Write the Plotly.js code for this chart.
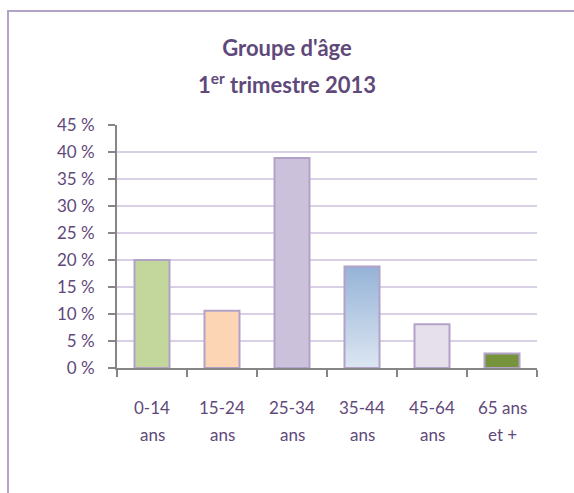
<!DOCTYPE html>
<html>
<head>
<meta charset="utf-8">
<script src="https://cdn.plot.ly/plotly-3.0.1.min.js"></script>
<style>html,body{margin:0;padding:0;background:#fff;}#chart{width:574px;height:493px;}</style>
</head>
<body>
<div id="chart"></div>
<script>
// Data
const categories = ["0-14 ans", "15-24 ans", "25-34 ans", "35-44 ans", "45-64 ans", "65 ans et +"];
const labelLine1 = ["0-14", "15-24", "25-34", "35-44", "45-64", "65 ans"];
const labelLine2 = ["ans", "ans", "ans", "ans", "ans", "et +"];
const values = [20.0, 10.6, 38.9, 18.8, 8.1, 2.7];
const barColors = ["#c3d69b", "#fcd5b5", "#ccc1da", "#b8cce4", "#e6e0ec", "#77933c"];
const yTicks = [0, 5, 10, 15, 20, 25, 30, 35, 40, 45];
const titleLine1 = "Groupe d'âge";
const titleLine2 = "1<sup>er</sup> trimestre 2013";

const FONT = "Lato, 'Open Sans', sans-serif";
const TXT = "#5f497a";

const annotations = [];
for (let i = 0; i < categories.length; i++) {
  annotations.push({x: categories[i], xref: 'x', y: -0.1646, yref: 'paper', text: labelLine1[i],
    showarrow: false, xanchor: 'center', yanchor: 'middle', font: {family: FONT, size: 17, color: TXT}});
  annotations.push({x: categories[i], xref: 'x', y: -0.2757, yref: 'paper', text: labelLine2[i],
    showarrow: false, xanchor: 'center', yanchor: 'middle', font: {family: FONT, size: 17, color: TXT}});
}
annotations.push({x: (287 - 117) / 420, xref: 'paper', y: 1.17, yref: 'paper', text: '<b>' + titleLine2 + '</b>',
  showarrow: false, xanchor: 'center', yanchor: 'middle', font: {family: FONT, size: 22, color: TXT}});

const data = [{
  type: 'bar',
  x: categories,
  y: values,
  marker: {color: barColors, line: {color: '#b3a2c7', width: 2}},
  hoverinfo: 'skip'
}];

const layout = {
  width: 574, height: 493,
  margin: {l: 117, r: 37, t: 125, b: 125},
  paper_bgcolor: '#ffffff', plot_bgcolor: '#ffffff',
  bargap: 0.5,
  showlegend: false,
  title: {text: '<b>' + titleLine1 + '</b>', x: 0.5, xref: 'container', xanchor: 'center',
          y: 1 - 48 / 493, yref: 'container', yanchor: 'middle',
          font: {family: FONT, size: 22, color: TXT}},
  xaxis: {type: 'category', tickson: 'boundaries', ticks: 'outside', ticklen: 7, tickwidth: 2,
          tickcolor: '#868686', showline: true, linecolor: '#868686', linewidth: 2,
          showgrid: false, showticklabels: false, fixedrange: true},
  yaxis: {range: [0, 45], tickvals: yTicks, ticktext: yTicks.map(v => v + ' %'),
          ticks: 'outside', ticklen: 7, tickwidth: 2, tickcolor: '#868686',
          showline: true, linecolor: '#868686', linewidth: 2,
          showgrid: true, gridcolor: '#d9d0e6', gridwidth: 2, zeroline: false,
          ticklabelstandoff: 10,
          tickfont: {family: FONT, size: 17, color: TXT}, fixedrange: true},
  annotations: annotations,
  shapes: [{type: 'rect', xref: 'paper', yref: 'paper',
            x0: (8 - 117) / 420, x1: (590 - 117) / 420,
            y0: (368 - 510) / 243, y1: (368 - 11) / 243,
            line: {color: '#b3a2c7', width: 2}, fillcolor: 'rgba(0,0,0,0)', layer: 'below'}]
};

Plotly.newPlot('chart', data, layout, {displayModeBar: false, staticPlot: true}).then(function (gd) {
  const svg = gd.querySelector('svg.main-svg');
  const ns = 'http://www.w3.org/2000/svg';
  let defs = svg.querySelector('defs');
  if (!defs) { defs = document.createElementNS(ns, 'defs'); svg.insertBefore(defs, svg.firstChild); }
  const grad = document.createElementNS(ns, 'linearGradient');
  grad.setAttribute('id', 'blueGrad');
  grad.setAttribute('x1', '0'); grad.setAttribute('y1', '0');
  grad.setAttribute('x2', '0'); grad.setAttribute('y2', '1');
  [['0', '#95b3d7'], ['1', '#dce6f2']].forEach(function (s) {
    const st = document.createElementNS(ns, 'stop');
    st.setAttribute('offset', s[0]); st.setAttribute('stop-color', s[1]);
    grad.appendChild(st);
  });
  defs.appendChild(grad);
  const paths = gd.querySelectorAll('g.trace.bars g.point path');
  if (paths[3]) paths[3].style.fill = 'url(#blueGrad)';
});
</script>
</body>
</html>
